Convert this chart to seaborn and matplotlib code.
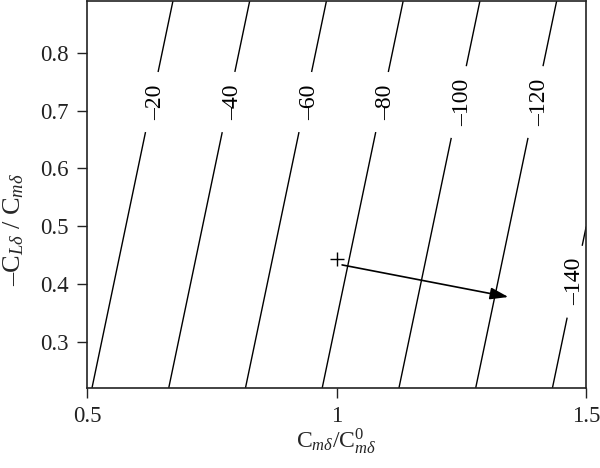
import matplotlib
matplotlib.use("Agg")
import matplotlib.pyplot as plt
import numpy as np
import seaborn as sns

sns.set_theme(style="white")
plt.rcParams['font.family'] = ['Liberation Serif', 'DejaVu Serif']
plt.rcParams['mathtext.fontset'] = 'custom'
plt.rcParams['mathtext.rm'] = 'Liberation Serif'
plt.rcParams['mathtext.it'] = 'Liberation Serif:italic'
plt.rcParams['contour.negative_linestyle'] = 'solid'

# field at the corners of the plotted region
x_grid = [0.5, 1.5]
y_grid = [0.22, 0.89]
z_grid = [[-18.7, -148.8],
          [2.4, -127.7]]
levels = [-140, -120, -100, -80, -60, -40, -20]

# design point and direction of the arrow
point_x = [1.0]
point_y = [0.443]
arrow_start = (1.011, 0.433)
arrow_end = (1.344, 0.3775)

fig, ax = plt.subplots(figsize=(6, 4.68), dpi=100)
fig.subplots_adjust(left=0.145, right=0.977, bottom=0.171, top=0.998)

X, Y = np.meshgrid(x_grid, y_grid)
Z = np.array(z_grid)
cs = ax.contour(X, Y, Z, levels=levels, colors='black', linewidths=1.0,
                linestyles='solid')

# label spots: along y = 0.715, except -140 which sits lower
lab_y = 0.715
pts = []
for i, lev in enumerate(levels):
    if lev == -140:
        pts.append((1.46, 0.407))
        continue
    seg = cs.allsegs[i][0]
    xs, ys = seg[:, 0], seg[:, 1]
    order = np.argsort(ys)
    pts.append((np.interp(lab_y, ys[order], xs[order]), lab_y))

labels = ax.clabel(cs, levels=levels, inline=True, inline_spacing=13,
                   fontsize=17, manual=pts,
                   fmt=lambda v: "\u2013%d" % abs(v))
for t in labels:
    t.set_rotation(90)
    # upper labels sit a little right of their line in the original
    x0, y0 = t.get_position()
    if y0 > 0.6:
        t.set_position((x0 + 0.008, y0))

sns.scatterplot(x=point_x, y=point_y, marker='+', s=90, color='black',
                linewidth=1.0, ax=ax, zorder=5)
ax.annotate("", xy=arrow_end, xytext=arrow_start,
            arrowprops=dict(arrowstyle="-|>,head_length=0.55,head_width=0.18",
                            color='black', lw=1.2, mutation_scale=20,
                            shrinkA=0, shrinkB=0))

ax.set_xlim(0.5, 1.5)
ax.set_ylim(0.22, 0.89)
ax.set_xticks([0.5, 1, 1.5])
ax.set_xticklabels(['0.5', '1', '1.5'])
ax.set_yticks([0.3, 0.4, 0.5, 0.6, 0.7, 0.8])
ax.tick_params(direction='out', length=7, width=1.0, colors='#222222',
               labelsize=16.5, bottom=True, left=True, pad=6)

for s in ax.spines.values():
    s.set_color('#222222')
    s.set_linewidth(1.2)

ax.set_xlabel(r"C$_{m\delta}$/C$^{0}_{m\delta}$", fontsize=17)
ax.set_ylabel("\u2013C$_{L\\delta}$ / C$_{m\\delta}$", fontsize=19)
ax.xaxis.set_label_coords(0.5, -0.10)
ax.yaxis.set_label_coords(-0.122, 0.41)

plt.savefig("out.png", dpi=100)
